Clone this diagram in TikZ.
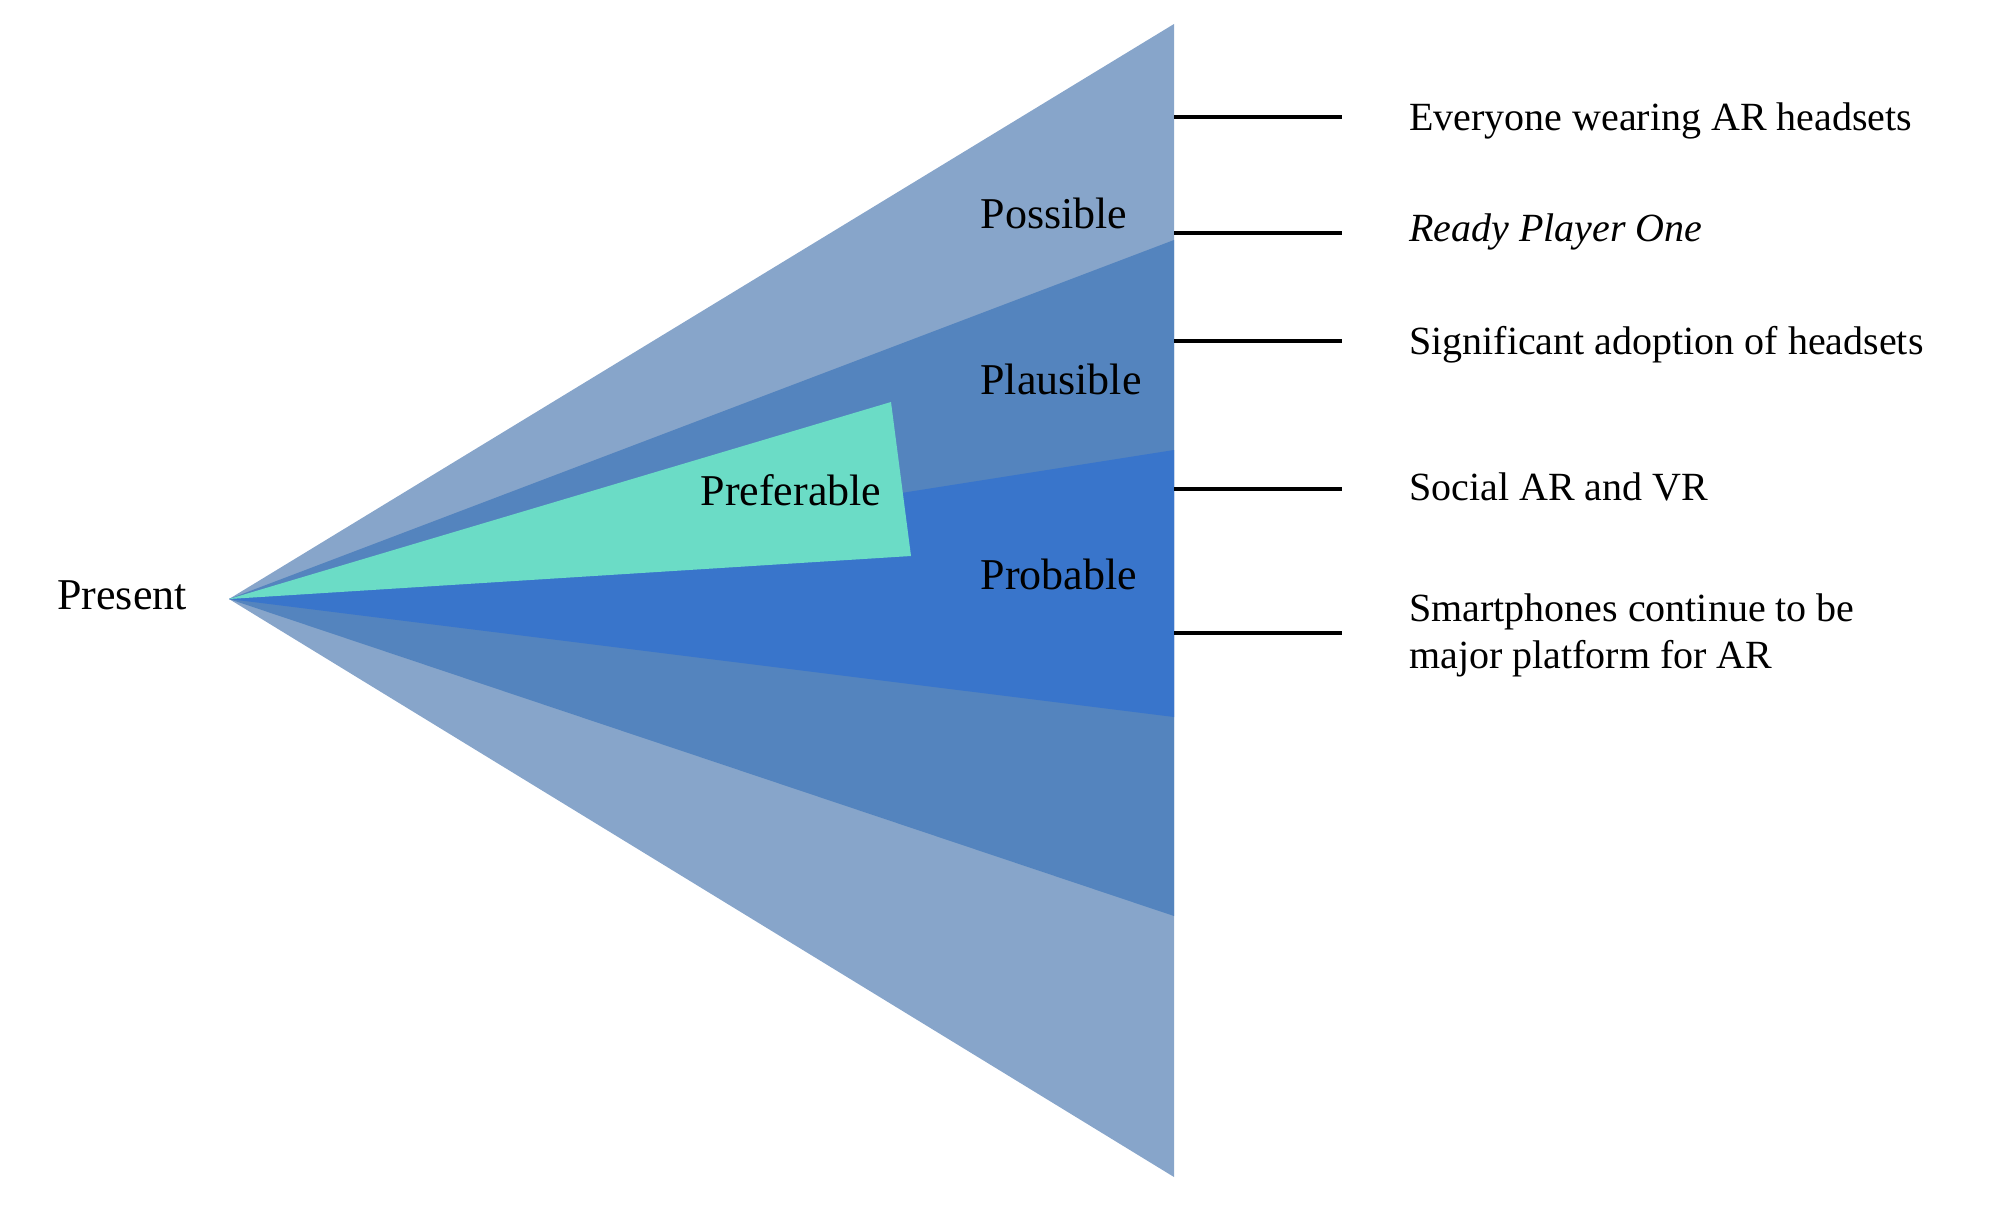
\documentclass[tikz,border=0pt]{standalone}
\usepackage{fontspec}
\setmainfont{Liberation Serif}
\definecolor{possc}{RGB}{135,165,202}
\definecolor{plauc}{RGB}{84,132,190}
\definecolor{probc}{RGB}{57,117,203}
\definecolor{prefc}{RGB}{107,220,198}
\tikzset{
  conelabel/.style={inner sep=0pt, font=\fontsize{44}{53}\selectfont, text=black},
  eventtext/.style={inner sep=0pt, anchor=west, font=\fontsize{40}{47}\selectfont, text=black, align=left},
  tick/.style={line width=4pt, black},
}
\begin{document}
\begin{tikzpicture}[x=1pt,y=-1pt]
\useasboundingbox (0,0) rectangle (2000,1209);
% apex
\coordinate (apex) at (229,599);
% cones
\fill[possc] (apex) -- (1174,24) -- (1174,1177) -- cycle;
\fill[plauc] (apex) -- (1174,240) -- (1174,916) -- cycle;
\fill[probc] (apex) -- (1174,450) -- (1174,717) -- cycle;
\fill[prefc] (apex) -- (891,402) -- (911,556) -- cycle;
% labels
\node[conelabel] (present) at (122,595) {Present};
\node[conelabel] (possible) at (1054,213) {Possible};
\node[conelabel] (plausible) at (1061,379) {Plausible};
\node[conelabel] (preferable) at (791,490) {Preferable};
\node[conelabel] (probable) at (1059,574) {Probable};
% event texts
\node[eventtext] (t1) at (1409,121) {Everyone wearing AR headsets};
\node[eventtext] (t2) at (1409,232) {\itshape Ready Player One};
\node[eventtext] (t3) at (1409,345) {Significant adoption of headsets};
\node[eventtext] (t4) at (1409,487) {Social AR and VR};
\node[eventtext] (t5) at (1409,635) {Smartphones continue to be\\major platform for AR};
% tick lines
\coordinate (s1) at (1174,117); \coordinate (e1) at (1342,117);
\coordinate (s2) at (1174,233); \coordinate (e2) at (1342,233);
\coordinate (s3) at (1174,341); \coordinate (e3) at (1342,341);
\coordinate (s4) at (1174,489); \coordinate (e4) at (1342,489);
\coordinate (s5) at (1174,633); \coordinate (e5) at (1342,633);
\draw[tick] (s1) -- (e1);
\draw[tick] (s2) -- (e2);
\draw[tick] (s3) -- (e3);
\draw[tick] (s4) -- (e4);
\draw[tick] (s5) -- (e5);
\end{tikzpicture}
\end{document}
